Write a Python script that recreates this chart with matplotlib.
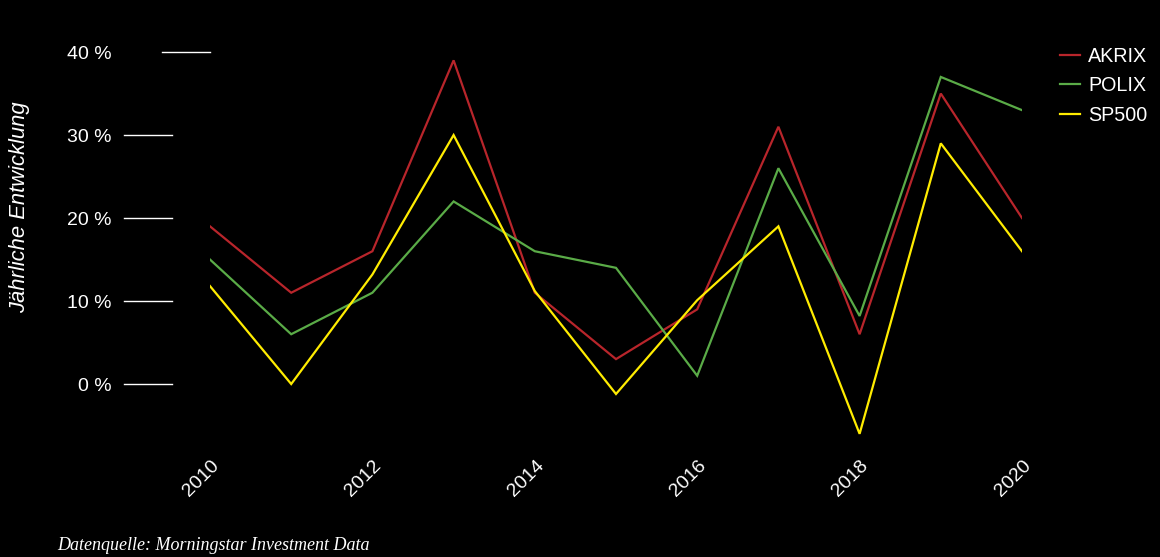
import matplotlib
matplotlib.use('Agg')
import matplotlib.pyplot as plt
import matplotlib.transforms as mtransforms

# ---- data ----
years = [2010, 2011, 2012, 2013, 2014, 2015, 2016, 2017, 2018, 2019, 2020]
akrix = [19, 11, 16, 39, 11, 3, 9, 31, 6, 35, 20]
polix = [15, 6, 11, 22, 16, 14, 1, 26, 8.2, 37, 33]
sp500 = [11.8, 0, 13.2, 30, 11.2, -1.2, 10.1, 19, -6, 29, 16]
series_names = ['AKRIX', 'POLIX', 'SP500']
y_ticks = [0, 10, 20, 30, 40]
x_ticks = [2010, 2012, 2014, 2016, 2018, 2020]

COLORS = ['#b8252b', '#5aab47', '#ffec00']

plt.rcParams.update({
    'font.family': ['Liberation Sans', 'DejaVu Sans'],
    'font.size': 14,
    'figure.facecolor': 'black',
    'axes.facecolor': 'black',
    'text.color': 'white',
})

fig = plt.figure(figsize=(11.6, 5.57), dpi=100)
ax = fig.add_axes([210 / 1160, 0.1839, 812 / 1160, 0.745])

for vals, name, col in zip([akrix, polix, sp500], series_names, COLORS):
    ax.plot(years, vals, color=col, lw=1.6, label=name, solid_joinstyle='miter')

ax.set_xlim(2010, 2020)
ax.set_ylim(-8.5, 41.5)
for s in ax.spines.values():
    s.set_visible(False)

# y ticks: labels only, short white bars drawn by hand
ax.set_yticks(y_ticks)
ax.set_yticklabels([f'{v} %' for v in y_ticks], color='white', fontsize=14)
ax.tick_params(axis='y', length=0, pad=71)
blend = mtransforms.blended_transform_factory(ax.transAxes, ax.transData)
for v in y_ticks:
    x0, x1 = (-0.0591, 0.0) if v == 40 else (-0.1059, -0.0468)
    ax.plot([x0, x1], [v, v], color='white', lw=1.0, transform=blend, clip_on=False)

ax.set_xticks(x_ticks)
ax.set_xticklabels([str(v) for v in x_ticks], rotation=45, color='white', fontsize=14)
ax.tick_params(axis='x', length=0, pad=2)
shift = mtransforms.ScaledTranslation(-9 / 100, 0, fig.dpi_scale_trans)
for lbl in ax.get_xticklabels():
    lbl.set_transform(lbl.get_transform() + shift)

fig.text(20 / 1160, 1 - 207.5 / 557, 'Jährliche Entwicklung', rotation=90,
         style='italic', fontsize=15.8, color='white', ha='center', va='center')

fig.legend(loc='upper left', bbox_to_anchor=(1060 / 1160, 1 - 47 / 557),
           frameon=False, fontsize=14.2, handlelength=1.0, handletextpad=0.42,
           labelspacing=0.52, borderpad=0, borderaxespad=0, labelcolor='white')

fig.text(57 / 1160, 1 - 545 / 557, 'Datenquelle: Morningstar Investment Data',
         family=['Liberation Serif', 'DejaVu Serif'], style='italic', fontsize=13,
         color='white', ha='left', va='center')

fig.savefig('out.png', dpi=100, facecolor='black')
